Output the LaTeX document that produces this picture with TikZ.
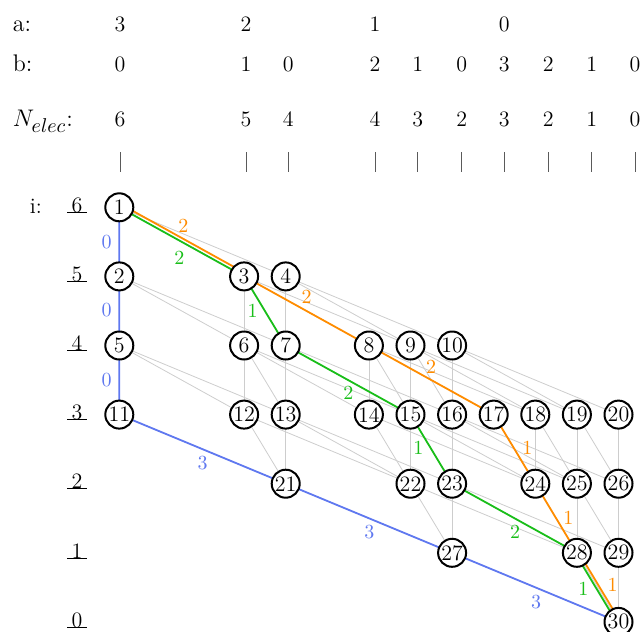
\documentclass[tikz,border=0pt]{standalone}
\usetikzlibrary{backgrounds}
\definecolor{pblue}{RGB}{95,120,240}
\definecolor{pgreen}{RGB}{25,190,25}
\definecolor{porange}{RGB}{255,140,0}
\definecolor{tickgray}{RGB}{90,90,90}
\definecolor{edgegray}{RGB}{205,205,205}
\newcommand{\elevenpt}{\fontsize{11}{13}\selectfont}
\begin{document}
\begin{tikzpicture}[x=0.5pt,y=-0.5pt,
  st/.style={circle,draw,line width=1pt,fill=white,minimum size=14pt,inner sep=0pt,font=\elevenpt},
  ge/.style={draw=edgegray,line width=0.4pt},
  pb/.style={draw=pblue,line width=0.9pt},
  pg/.style={draw=pgreen,line width=0.9pt},
  po/.style={draw=porange,line width=0.9pt},
  hd/.style={anchor=base,inner sep=0pt,font=\elevenpt},
  hl/.style={anchor=base west,inner sep=0pt,font=\large},
  lb/.style={inner sep=0pt},
  tk/.style={draw=tickgray,line width=0.5pt},
]
\useasboundingbox (0,0) rectangle (643,632);
% header labels
\node[hl] (ha) at (12.5,31) {a:};
\node[hl] (hb) at (12.5,71) {b:};
\node[hl] (hn) at (12.5,126.5) {$N_{\mbox{\normalsize$elec$}}$:};
\node[hd,anchor=base west] (hi) at (29.5,213) {i:};
% header columns
\foreach \x/\a/\b/\n [count=\k] in {120/3/0/6, 246/2/1/5, 288.3//0/4, 375/1/2/4, 417.7//1/3, 461.7//0/2, 504.3/0/3/3, 548.3//2/2, 591.7//1/1, 635//0/0}{
  \node[hd] (a\k) at (\x,31) {\a};
  \node[hd] (b\k) at (\x,71) {\b};
  \node[hd] (e\k) at (\x,126.5) {\n};
  \coordinate (tt\k) at (\x,152);
  \coordinate (tb\k) at (\x,172);
  \draw[tk] (tt\k) -- (tb\k);
}
% level labels
\foreach \i/\y in {6/207.3,5/276.4,4/345.5,3/414.6,2/483.7,1/552.8,0/621.9}{
  \node[hd] (l\i) at (77,\y+5.2) {\i};
  \draw[line width=0.5pt] ([xshift=-5pt]l\i.base) -- ([xshift=5pt]l\i.base);
}
% nodes
\node[st] (n1) at (119.3,207.3) {1};
\node[st] (n2) at (119.3,276.4) {2};
\node[st] (n3) at (244.1,276.4) {3};
\node[st] (n4) at (285.7,276.4) {4};
\node[st] (n5) at (119.3,345.5) {5};
\node[st] (n6) at (244.1,345.5) {6};
\node[st] (n7) at (285.7,345.5) {7};
\node[st] (n8) at (368.9,345.5) {8};
\node[st] (n9) at (410.5,345.5) {9};
\node[st] (n10) at (452.1,345.5) {10};
\node[st] (n11) at (119.3,414.6) {11};
\node[st] (n12) at (244.1,414.6) {12};
\node[st] (n13) at (285.7,414.6) {13};
\node[st] (n14) at (368.9,414.6) {14};
\node[st] (n15) at (410.5,414.6) {15};
\node[st] (n16) at (452.1,414.6) {16};
\node[st] (n17) at (493.7,414.6) {17};
\node[st] (n18) at (535.3,414.6) {18};
\node[st] (n19) at (576.9,414.6) {19};
\node[st] (n20) at (618.5,414.6) {20};
\node[st] (n21) at (285.7,483.7) {21};
\node[st] (n22) at (410.5,483.7) {22};
\node[st] (n23) at (452.1,483.7) {23};
\node[st] (n24) at (535.3,483.7) {24};
\node[st] (n25) at (576.9,483.7) {25};
\node[st] (n26) at (618.5,483.7) {26};
\node[st] (n27) at (452.1,552.8) {27};
\node[st] (n28) at (576.9,552.8) {28};
\node[st] (n29) at (618.5,552.8) {29};
\node[st] (n30) at (618.5,621.9) {30};
\begin{scope}[on background layer]
\foreach \u/\v in {1/2,1/3,1/4,2/5,2/6,2/7,3/6,3/7,3/8,3/9,4/7,4/9,4/10,
  5/11,5/12,5/13,6/12,6/13,6/14,6/15,7/13,7/15,7/16,8/14,8/15,8/17,8/18,
  9/15,9/16,9/18,9/19,10/16,10/19,10/20,11/21,12/21,12/22,13/21,13/22,13/23,
  14/22,14/24,15/22,15/23,15/24,15/25,16/23,16/25,16/26,17/24,18/24,18/25,
  19/25,19/26,20/26,21/27,22/27,22/28,23/27,23/28,23/29,24/28,25/28,25/29,
  26/29,27/30,28/30,29/30}
  \draw[ge] (n\u.center) -- (n\v.center);
% blue path
\draw[pb] (n1.center) -- (n2.center) -- (n5.center) -- (n11.center) -- (n21.center) -- (n27.center) -- (n30.center);
% green path
\draw[pg] (n1.center) -- (n3.center) -- (n7.center) -- (n15.center) -- (n23.center) -- (n28.center);
\draw[pg] ([shift={(-1.45,0.9)}]n28.center) -- ([shift={(-1.45,0.9)}]n30.center);
% orange path
\draw[po] ([shift={(1.6,-3)}]n1.center) -- ([shift={(1.6,-3)}]n3.center);
\draw[po] (n3.center) -- (n8.center) -- (n17.center) -- (n24.center) -- (n28.center);
\draw[po] ([shift={(1.45,-0.9)}]n28.center) -- ([shift={(1.45,-0.9)}]n30.center);
\end{scope}
% path labels
\node[lb,text=pblue] (lb1) at (106.7,241.7) {0};
\node[lb,text=pblue] (lb2) at (106.7,310) {0};
\node[lb,text=pblue] (lb3) at (106.7,380) {0};
\node[lb,text=pblue] (lb4) at (202.7,463.3) {3};
\node[lb,text=pblue] (lb5) at (369.3,531.7) {3};
\node[lb,text=pblue] (lb6) at (536,601.7) {3};
\node[lb,text=pgreen] (lg1) at (179.3,257.7) {2};
\node[lb,text=pgreen] (lg2) at (252.7,310.7) {1};
\node[lb,text=pgreen] (lg3) at (348.3,393.3) {2};
\node[lb,text=pgreen] (lg4) at (418.3,448.3) {1};
\node[lb,text=pgreen] (lg5) at (515,531.7) {2};
\node[lb,text=pgreen] (lg6) at (583.3,589.3) {1};
\node[lb,text=porange] (lo1) at (183.3,225.7) {2};
\node[lb,text=porange] (lo2) at (306.7,296.7) {2};
\node[lb,text=porange] (lo3) at (431,366.7) {2};
\node[lb,text=porange] (lo4) at (527.3,448.3) {1};
\node[lb,text=porange] (lo5) at (568.3,518.3) {1};
\node[lb,text=porange] (lo6) at (612.7,585) {1};
\end{tikzpicture}
\end{document}
